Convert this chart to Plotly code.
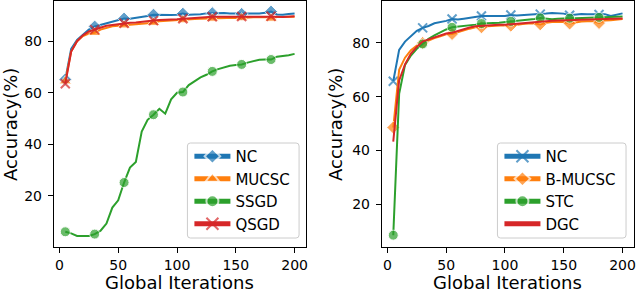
import plotly.graph_objects as go

iters = list(range(5, 205, 5))

# Left panel
left_nc = [65.2, 77, 80.5, 82.5, 84.5, 85.7, 86.3, 86.8, 87.3, 88, 88.8, 88.7, 89, 89.3, 89.8, 90.3, 90.2, 90.3, 90.2, 90.3,
           90.7, 90.3, 90.3, 90.5, 90.8, 90.9, 91, 90.9, 90.8, 90.8, 90.6, 90.7, 90.8, 90.8, 91, 91.5, 90.4, 90.3, 90.6, 90.8]
left_mucsc = [64.5, 76, 80, 82, 83, 83.3, 84.5, 85.3, 85.8, 86, 86.2, 86.6, 86.8, 87, 87.2, 87.2, 87.7, 87.9, 88, 88.2,
              88.2, 88.4, 88.6, 88.7, 88.8, 88.8, 89, 89.1, 89, 89.1, 89, 89.2, 89.3, 89.3, 89.4, 88.8, 89.4, 89.4, 89.5, 89.5]
left_ssgd = [6.1, 5.5, 4.5, 4.5, 4.5, 5.2, 6.5, 9.3, 15.5, 18.3, 25.2, 31, 33.2, 45, 49.5, 51.5, 53.8, 51.9, 57.5, 60,
             60.3, 63, 64.5, 66, 67, 68.3, 69.2, 69.9, 70.5, 70.8, 71, 71.7, 72.2, 72.8, 72.9, 72.9, 74, 74.2, 74.6, 75.1]
left_qsgd = [63.5, 76, 80, 82.3, 83.8, 84.5, 85.5, 86, 86.3, 86.6, 87, 87.2, 87.3, 87.6, 87.9, 88, 88.2, 88.4, 88.4, 88.5,
             88.7, 88.8, 88.9, 89.1, 89.3, 89.5, 89.5, 89.5, 89.5, 89.6, 89.6, 89.6, 89.6, 89.7, 89.7, 89.7, 89.5, 89.4, 89.6, 89.7]

# Right panel
right_nc = [65.7, 77.4, 80.5, 82.5, 84.5, 85.6, 86.3, 87.3, 87.7, 88.2, 88.9, 88.7, 89, 89.3, 89.6, 90, 90, 90.1, 90, 90,
            90.4, 90.2, 90.3, 90.5, 90.6, 90.7, 90.9, 91.1, 91, 90.9, 90.3, 90.6, 90.8, 90.7, 90.7, 90.6, 90.7, 90, 90.6, 91]
right_bmucsc = [48.5, 70, 74.5, 77.3, 79, 80, 80.8, 81.8, 82.5, 83.2, 83.3, 84, 84.7, 85.3, 85.8, 85.8, 86.2, 86.4, 86.6, 86.6,
                86.4, 86.8, 87, 87.2, 87.3, 86.9, 87.5, 87.8, 87.9, 87.8, 87.2, 87.6, 88, 88.1, 88.1, 87.4, 88.3, 88.4, 88.6, 88.9]
right_stc = [8.4, 61, 71.8, 75.3, 77.8, 79.6, 81.5, 82.8, 84, 85, 85.8, 86, 86.3, 86.5, 86.8, 87.2, 87.2, 87.4, 87.5, 87.7,
             88, 88.2, 88.3, 88.6, 88.9, 89.3, 89, 88.8, 89, 89.2, 89.2, 89.2, 89.3, 89.3, 89.4, 89.5, 89.5, 89.6, 89.7, 89.8]
right_dgc = [43.2, 66, 72, 76, 78.5, 80.5, 81.3, 82, 82.8, 83.5, 83.8, 84.5, 85, 85.7, 86.2, 86.4, 86.5, 86.7, 86.8, 86.8,
             87, 87.2, 87.3, 87.5, 87.7, 87.9, 88.1, 88.2, 88.3, 88.3, 88.3, 88.5, 88.6, 88.7, 88.8, 88.9, 88.9, 89, 89, 89.1]

x_ticks = [0, 50, 100, 150, 200]
y_ticks = [20, 40, 60, 80]

BLUE, ORANGE, GREEN, RED = "#1f77b4", "#ff7f0e", "#2ca02c", "#d62728"
FONT = "DejaVu Sans"

# pixel geometry of the two plot areas
L0, L1 = 54, 307
R0, R1 = 383, 636
TOP, BOT = 1, 247
H = BOT - TOP


def msizes(size):
    return [size if i % 5 == 0 else 0 for i in range(len(iters))]


def add(fig, y, name, color, symbol, size, xa, ya, legend):
    marker = dict(color=color, size=msizes(size) if symbol else 0, symbol=symbol or "circle")
    if symbol and "x-thin" in symbol:
        marker["line"] = dict(color=color, width=2)
    fig.add_trace(go.Scatter(x=iters, y=y, name=name, mode="lines+markers" if symbol else "lines",
                             line=dict(color=color, width=2), marker=marker,
                             xaxis=xa, yaxis=ya, legend=legend, legendgroup=name + xa))


fig = go.Figure()
add(fig, left_nc, "NC", BLUE, "diamond", 10, "x", "y", "legend")
add(fig, left_mucsc, "MUCSC", ORANGE, "triangle-up", 11, "x", "y", "legend")
add(fig, left_ssgd, "SSGD", GREEN, "circle", 10, "x", "y", "legend")
add(fig, left_qsgd, "QSGD", RED, "x-thin", 9, "x", "y", "legend")

add(fig, right_nc, "NC", BLUE, "x-thin", 9, "x2", "y2", "legend2")
add(fig, right_bmucsc, "B-MUCSC", ORANGE, "diamond", 10, "x2", "y2", "legend2")
add(fig, right_stc, "STC", GREEN, "circle", 10, "x2", "y2", "legend2")
add(fig, right_dgc, "DGC", RED, None, 0, "x2", "y2", "legend2")

axis_common = dict(showline=True, mirror=True, linecolor="black", linewidth=1, ticks="outside", ticklen=5,
                   tickcolor="black", showgrid=False, zeroline=False,
                   tickfont=dict(family=FONT, size=14, color="black"))

legend_common = dict(bgcolor="rgba(0,0,0,0)", borderwidth=0,
                     font=dict(family=FONT, size=15, color="black"), itemsizing="constant",
                     itemwidth=36, traceorder="grouped", tracegroupgap=0, xanchor="left", yanchor="top")


def px_x(p):
    return p / 640


def px_y(p):
    return (BOT - p) / H


def rounded_box(x0, y0, x1, y1, r=3):
    # legend frame (pixel coordinates -> paper coordinates), rounded corners
    X = lambda v: px_x(v)
    Y = lambda v: px_y(v)
    return (f"M {X(x0 + r)},{Y(y0)} L {X(x1 - r)},{Y(y0)} Q {X(x1)},{Y(y0)} {X(x1)},{Y(y0 + r)} "
            f"L {X(x1)},{Y(y1 - r)} Q {X(x1)},{Y(y1)} {X(x1 - r)},{Y(y1)} "
            f"L {X(x0 + r)},{Y(y1)} Q {X(x0)},{Y(y1)} {X(x0)},{Y(y1 - r)} "
            f"L {X(x0)},{Y(y0 + r)} Q {X(x0)},{Y(y0)} {X(x0 + r)},{Y(y0)} Z")


title_font = dict(family=FONT, size=18, color="black")

fig.update_layout(
    width=640, height=295,
    margin=dict(l=0, r=0, t=TOP, b=295 - BOT),
    plot_bgcolor="white", paper_bgcolor="white",
    showlegend=True, hovermode=False,
    xaxis=dict(domain=[px_x(L0), px_x(L1)], range=[-4.75, 209.75], tickvals=x_ticks, anchor="y", **axis_common),
    yaxis=dict(domain=[0, 1], range=[0.2, 95.6], tickvals=y_ticks, anchor="x", ticklabelstandoff=3, **axis_common),
    xaxis2=dict(domain=[px_x(R0), px_x(R1)], range=[-4.75, 209.75], tickvals=x_ticks, anchor="y2", **axis_common),
    yaxis2=dict(domain=[0, 1], range=[4.0, 95.6], tickvals=y_ticks, anchor="x2", ticklabelstandoff=3, **axis_common),
    legend=dict(x=px_x(190), y=px_y(140), **legend_common),
    legend2=dict(x=px_x(501), y=px_y(140), **legend_common),
    shapes=[
        dict(type="path", xref="paper", yref="paper", path=rounded_box(188, 143, 300, 238), layer="above",
             fillcolor="rgba(255,255,255,0.8)", line=dict(color="#cccccc", width=1)),
        dict(type="path", xref="paper", yref="paper", path=rounded_box(499, 143, 628, 238), layer="above",
             fillcolor="rgba(255,255,255,0.8)", line=dict(color="#cccccc", width=1)),
    ],
    annotations=[
        dict(text="Global Iterations", x=px_x((L0 + L1) / 2), y=px_y(295), xref="paper", yref="paper",
             showarrow=False, font=title_font, xanchor="center", yanchor="bottom"),
        dict(text="Global Iterations", x=px_x((R0 + R1) / 2), y=px_y(295), xref="paper", yref="paper",
             showarrow=False, font=title_font, xanchor="center", yanchor="bottom"),
        dict(text="Accuracy(%)", x=px_x(10), y=px_y((TOP + BOT) / 2), xref="paper", yref="paper", showarrow=False,
             textangle=-90, font=title_font, xanchor="center", yanchor="middle"),
        dict(text="Accuracy(%)", x=px_x(336), y=px_y((TOP + BOT) / 2), xref="paper", yref="paper", showarrow=False,
             textangle=-90, font=title_font, xanchor="center", yanchor="middle"),
    ],
)

fig.write_html("out.html", config={"displayModeBar": False},
               post_script="document.body.style.margin='0';document.body.style.overflow='hidden';")
